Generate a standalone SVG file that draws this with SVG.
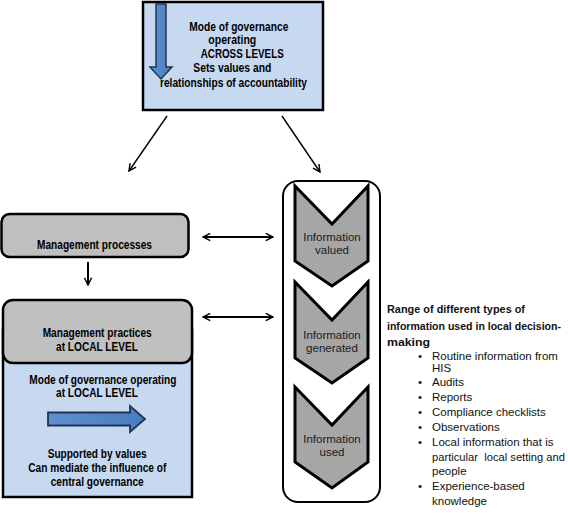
<svg xmlns="http://www.w3.org/2000/svg" width="568" height="514" viewBox="0 0 568 514">
<style>
.b{font-family:"Liberation Sans",Arial,sans-serif;font-weight:bold;font-size:12px;fill:#000}
.c{font-family:"Liberation Sans",Arial,sans-serif;font-size:11.5px;fill:#111}
.cb{font-family:"Liberation Sans",Arial,sans-serif;font-size:10.5px;font-weight:bold;fill:#111}
.ct{font-family:"Liberation Sans",Arial,sans-serif;font-size:11.5px;fill:#1a1a1a;text-anchor:middle}
.con{fill:none;stroke:#000;stroke-width:1.4}
.dbl{fill:none;stroke:#000;stroke-width:2}
.chev{fill:#a6a6a6;stroke:#000;stroke-width:3;stroke-linejoin:miter}
</style>
<defs>
<marker id="ah" viewBox="0 0 10 10" refX="9" refY="5" markerWidth="9" markerHeight="9" markerUnits="userSpaceOnUse" orient="auto-start-reverse">
<path d="M1,1 L9,5 L1,9" fill="none" stroke="#000" stroke-width="1.6"/>
</marker>
<linearGradient id="bg" x1="0" y1="0" x2="1" y2="0">
<stop offset="0" stop-color="#5f8fcf"/>
<stop offset="1" stop-color="#4a7cc0"/>
</linearGradient>
</defs>

<g id="top-governance">
<rect x="143" y="2" width="180" height="108" fill="#c6d9f1" stroke="#000" stroke-width="2.5"/>
<path d="M156,4 L166,4 L166,67 L172,67 L161,79 L150,67 L156,67 Z" fill="url(#bg)" stroke="#1f3550" stroke-width="1.5"/>
<text class="b" x="189.3" y="31" textLength="99" lengthAdjust="spacingAndGlyphs">Mode of governance</text>
<text class="b" x="208.3" y="44" textLength="48" lengthAdjust="spacingAndGlyphs">operating</text>
<text class="b" x="200.7" y="58" textLength="83" lengthAdjust="spacingAndGlyphs">ACROSS LEVELS</text>
<text class="b" x="193.3" y="72" textLength="78" lengthAdjust="spacingAndGlyphs">Sets values and</text>
<text class="b" x="160" y="87" textLength="147" lengthAdjust="spacingAndGlyphs">relationships of accountability</text>
</g>

<g id="management-processes">
<rect x="1.5" y="214" width="187" height="43" rx="8" fill="#bfbfbf" stroke="#000" stroke-width="2.5"/>
<text class="b" x="37" y="249" textLength="115" lengthAdjust="spacingAndGlyphs">Management processes</text>
</g>

<g id="local-level">
<rect x="3" y="330" width="189" height="167" fill="#c6d9f1" stroke="#000" stroke-width="2.5"/>
<rect x="3" y="300" width="189" height="63" rx="10" fill="#c0c0c0" stroke="#000" stroke-width="2.5"/>
<text class="b" x="42.7" y="337" textLength="109" lengthAdjust="spacingAndGlyphs">Management practices</text>
<text class="b" x="56" y="351" textLength="82" lengthAdjust="spacingAndGlyphs">at LOCAL LEVEL</text>
<text class="b" x="29.3" y="384" textLength="147" lengthAdjust="spacingAndGlyphs">Mode of governance operating</text>
<text class="b" x="56" y="397" textLength="82" lengthAdjust="spacingAndGlyphs">at LOCAL LEVEL</text>
<path d="M48,412.5 L130,412.5 L130,406 L145,419 L130,432 L130,425.5 L48,425.5 Z" fill="url(#bg)" stroke="#1f3550" stroke-width="1.8"/>
<text class="b" x="47.7" y="458" textLength="99" lengthAdjust="spacingAndGlyphs">Supported by values</text>
<text class="b" x="28.3" y="472" textLength="138" lengthAdjust="spacingAndGlyphs">Can mediate the influence of</text>
<text class="b" x="50.7" y="486" textLength="93" lengthAdjust="spacingAndGlyphs">central governance</text>
</g>

<g id="information-flow">
<rect x="283" y="181" width="97" height="321" rx="15" fill="#fff" stroke="#000" stroke-width="2"/>
<g id="info-valued">
<path class="chev" d="M295,186 L332,224 L368,186 L368,261 L332,286 L295,261 Z"/>
<text class="ct" x="332" y="241">Information</text>
<text class="ct" x="332" y="254">valued</text>
</g>
<g id="info-generated">
<path class="chev" d="M295,282 L332,320 L368,282 L368,358 L332,383 L295,358 Z"/>
<text class="ct" x="332" y="339">Information</text>
<text class="ct" x="332" y="352">generated</text>
</g>
<g id="info-used">
<path class="chev" d="M295,387 L332,425 L368,387 L368,462 L332,488 L295,462 Z"/>
<text class="ct" x="332" y="443">Information</text>
<text class="ct" x="332" y="456">used</text>
</g>
</g>

<g id="information-types">
<text class="cb" x="387" y="313" textLength="138" lengthAdjust="spacingAndGlyphs">Range of different types of</text>
<text class="cb" x="387" y="330" textLength="174" lengthAdjust="spacingAndGlyphs">information used in local decision-</text>
<text class="cb" x="387" y="346" textLength="43" lengthAdjust="spacingAndGlyphs">making</text>
<g class="c">
<text x="418" y="360">•</text><text x="432" y="360">Routine information from</text>
<text x="432" y="372">HIS</text>
<text x="418" y="386">•</text><text x="432" y="386">Audits</text>
<text x="418" y="401">•</text><text x="432" y="401">Reports</text>
<text x="418" y="416">•</text><text x="432" y="416">Compliance checklists</text>
<text x="418" y="431">•</text><text x="432" y="431">Observations</text>
<text x="418" y="446">•</text><text x="432" y="446">Local information that is</text>
<text x="432" y="461" textLength="133" lengthAdjust="spacingAndGlyphs" xml:space="preserve">particular  local setting and</text>
<text x="432" y="475">people</text>
<text x="418" y="490">•</text><text x="432" y="490">Experience-based</text>
<text x="432" y="505">knowledge</text>
</g>
</g>

<g id="connectors">
<line class="con" x1="167" y1="116" x2="129" y2="171" marker-end="url(#ah)"/>
<line class="con" x1="282" y1="116" x2="320" y2="172" marker-end="url(#ah)"/>
<line class="dbl" x1="203" y1="237" x2="273" y2="237" marker-start="url(#ah)" marker-end="url(#ah)"/>
<line class="dbl" x1="203" y1="317" x2="273" y2="317" marker-start="url(#ah)" marker-end="url(#ah)"/>
<line class="dbl" x1="88" y1="262" x2="88" y2="285" marker-end="url(#ah)"/>
</g>
</svg>
